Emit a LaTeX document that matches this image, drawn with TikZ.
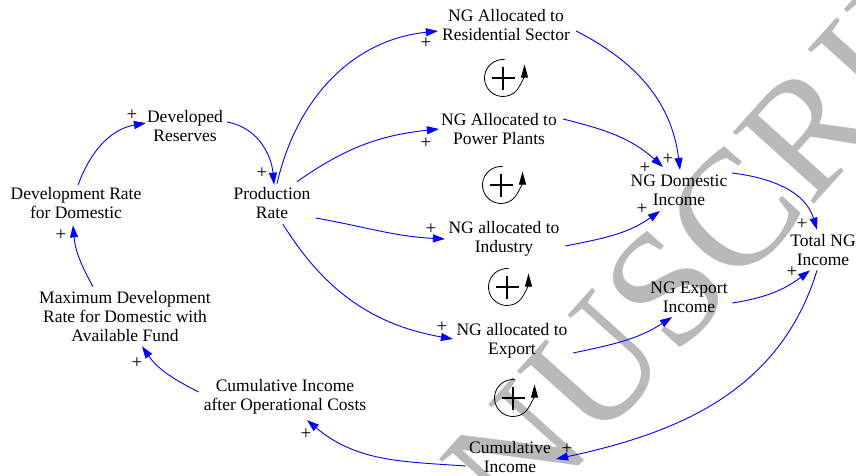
\documentclass[tikz,border=0pt]{standalone}
\usepackage{fontspec}
\setmainfont{Liberation Serif}
\usetikzlibrary{arrows.meta,calc}
\definecolor{wm}{RGB}{185,185,185}
\definecolor{lnkblue}{RGB}{0,0,255}
\begin{document}
\begin{tikzpicture}[x=1pt,y=1pt,
  lbl/.style={font=\fontsize{17.5}{19}\selectfont, align=center, inner sep=0pt},
  pl/.style={font=\fontsize{19}{19}\selectfont, inner sep=0pt},
  lnk/.style={draw=lnkblue, line width=0.9pt, -{Triangle[length=12pt,width=8pt]}, fill=none},
  loopmark/.pic={
    \draw[line width=0.8pt, -{Triangle[length=13pt,width=7pt]}]
      (85:18.5) arc[start angle=85, end angle=318, radius=18.5] to[out=55,in=-90] (21.5,13.5);
    \draw[line width=2pt] (-11.5,0) -- (11.5,0) (0,-11.5) -- (0,11.5);
  }]
\useasboundingbox (0,0) rectangle (856,-475);
\clip (0,0) rectangle (856,-475);

% watermark
\node[rotate=48, anchor=base west, font=\fontsize{165}{165}\selectfont, text=wm, inner sep=0pt] (wmark) at (516,-535.5) {NUSCRIPT};

% nodes
\node[lbl] (devres) at (185,-126) {Developed\\Reserves};
\node[lbl] (devrate) at (76,-203) {Development Rate\\for Domestic};
\node[lbl] (prod) at (272,-203) {Production\\Rate};
\node[lbl] (maxdev) at (125,-317) {Maximum Development\\Rate for Domestic with\\Available Fund};
\node[lbl] (cumops) at (285,-397) {Cumulative Income\\after Operational Costs};
\node[lbl] (res) at (506,-25) {NG Allocated to\\Residential Sector};
\node[lbl] (pow) at (499,-129) {NG Allocated to\\Power Plants};
\node[lbl] (ind) at (504,-239) {NG allocated to\\Industry};
\node[lbl] (exp) at (512,-341) {NG allocated to\\Export};
\node[lbl] (dom) at (679,-190) {NG Domestic\\Income};
\node[lbl] (tot) at (823,-250) {Total NG\\Income};
\node[lbl] (expinc) at (689,-297) {NG Export\\Income};
\node[lbl] (cum) at (510,-457) {Cumulative\\Income};

% loop markers
\pic at (503,-78) {loopmark};
\pic at (501,-185) {loopmark};
\pic at (507,-287) {loopmark};
\pic at (513,-398) {loopmark};

% links
\draw[lnk] ([shift={(2,2)}]devrate.north) to[out=70,in=190] ([shift={(-1,3)}]devres.west);
\draw[lnk] ([shift={(4,4)}]devres.east) to[out=-10,in=95] ([shift={(2,2.5)}]prod.north);
\draw[lnk] ([shift={(-32,5)}]maxdev.north) to[out=119,in=-85] ([shift={(-3,-6.5)}]devrate.south);
\draw[lnk] ([shift={(-5,5)}]cumops.west) to[out=153,in=-55] ([shift={(17,-4)}]maxdev.south);
\draw[lnk] ([shift={(-3,-9)}]cum.west) to[out=176,in=-40] ([shift={(22,-5.5)}]cumops.south);
\draw[lnk] ([shift={(-6,-4.5)}]tot.south) to[out=-107,in=12] ([shift={(5,-2)}]cum.east);
\draw[lnk] ([shift={(5,3.5)}]prod.north) to[out=77,in=186] ([shift={(-4,-6)}]res.west);
\draw[lnk] ([shift={(25,5.5)}]prod.north) to[out=35,in=186] ([shift={(-2,0)}]pow.west);
\draw[lnk] ([shift={(5,-15)}]prod.east) to[out=-10,in=177] ([shift={(-3.5,0)}]ind.west);
\draw[lnk] ([shift={(11,-5.5)}]prod.south) to[out=-58,in=170] ([shift={(-3.5,2)}]exp.west);
\draw[lnk] ([shift={(6,-6)}]res.east) to[out=-27,in=97] ([shift={(1,4.5)}]dom.north);
\draw[lnk] ([shift={(6,10)}]pow.east) to[out=-14,in=138] ([shift={(-16,7.5)}]dom.north);
\draw[lnk] ([shift={(5.5,-7)}]ind.east) to[out=11,in=215] ([shift={(-19,-5.5)}]dom.south);
\draw[lnk] ([shift={(4.5,17)}]dom.east) to[out=-7,in=107] ([shift={(-6,4.5)}]tot.north);
\draw[lnk] ([shift={(4.5,-6)}]expinc.east) to[out=9,in=217] ([shift={(-13,-4.5)}]tot.south);
\draw[lnk] ([shift={(5.5,-12)}]exp.east) to[out=12,in=213] ([shift={(-17,-4.5)}]expinc.south);

% polarity signs
\node[pl] (p1) at (132,-115) {+};
\node[pl] (p2) at (262,-173) {+};
\node[pl] (p3) at (61,-235) {+};
\node[pl] (p4) at (137,-363) {+};
\node[pl] (p5) at (306,-434) {+};
\node[pl] (p6) at (567,-449) {+};
\node[pl] (p7) at (426,-43) {+};
\node[pl] (p8) at (426,-143) {+};
\node[pl] (p9) at (431,-229) {+};
\node[pl] (p10) at (442,-327) {+};
\node[pl] (p11) at (668,-159) {+};
\node[pl] (p12) at (645,-168) {+};
\node[pl] (p13) at (642,-209) {+};
\node[pl] (p14) at (802,-224) {+};
\node[pl] (p15) at (792,-272) {+};
\end{tikzpicture}
\end{document}
